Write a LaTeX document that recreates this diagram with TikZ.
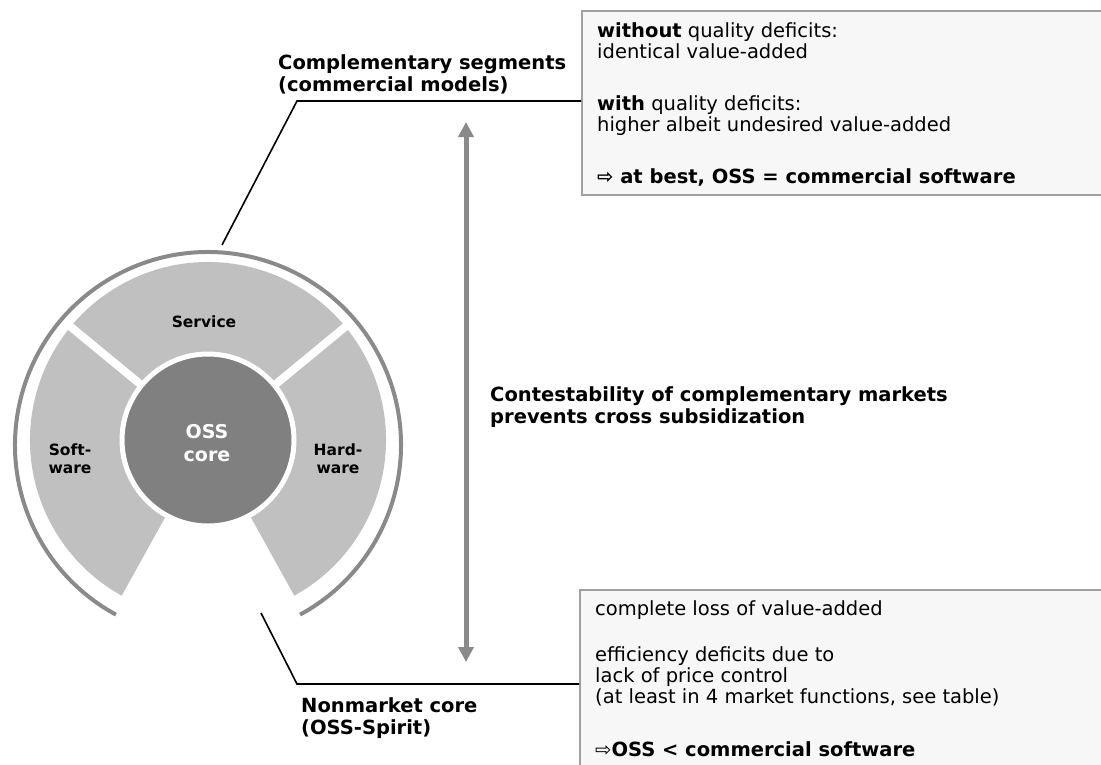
\documentclass[tikz,border=0pt]{standalone}
\usepackage{fontspec}
\setmainfont{DejaVu Sans}
\usetikzlibrary{arrows.meta,calc}
\definecolor{seggray}{HTML}{C0C0C0}
\definecolor{coregray}{HTML}{808080}
\definecolor{arcgray}{HTML}{8A8A8A}
\definecolor{boxfill}{HTML}{F7F7F7}
\definecolor{boxline}{HTML}{A0A0A0}
\tikzset{
  lbl/.style={font=\fontsize{19.5}{21}\selectfont\bfseries, inner sep=0pt, anchor=base west},
  boxtxt/.style={font=\fontsize{19.5}{21}\selectfont, inner sep=0pt, anchor=base west},
  seglbl/.style={font=\fontsize{15.5}{18}\selectfont\bfseries, align=center, inner sep=0pt},
  corelbl/.style={font=\fontsize{19}{23}\selectfont\bfseries, align=center, inner sep=0pt, text=white},
  infobox/.style={draw=boxline, fill=boxfill, line width=1.5pt, anchor=north west, inner sep=0pt},
  leader/.style={draw=black, line width=1.6pt},
  dblarrow/.style={draw=arcgray, line width=5pt, {Triangle[length=15pt,width=15pt]}-{Triangle[length=15pt,width=15pt]}},
  outerarc/.style={draw=arcgray, line width=4pt},
  gapline/.style={draw=white, line width=8pt}
}
\begin{document}
\begin{tikzpicture}[x=1pt,y=1pt]
\useasboundingbox (0,-764) rectangle (1101,0);
% --- wheel ---
\coordinate (C) at (208,-440);
\coordinate (O) at (208,-445);
\fill[seggray] ($(C)+(-61:178)$) arc[start angle=-61, end angle=241, radius=178]
   -- ($(C)+(241:84)$) arc[start angle=241, end angle=-61, radius=84] -- cycle;
\draw[gapline] ($(C)+(39.5:70)$) -- ($(C)+(39.5:185)$);
\draw[gapline] ($(C)+(140.5:70)$) -- ($(C)+(140.5:185)$);
\draw[outerarc] ($(O)+(-61.5:193)$) arc[start angle=-61.5, end angle=241.5, radius=193];
\node[circle, fill=coregray, draw=white, line width=5pt, minimum size=172pt, inner sep=0pt] (core) at (C) {};
\node[corelbl] (corelabel) at (207,-443) {OSS\\core};
\node[seglbl] (service) at (204,-322) {Service};
\node[seglbl] (software) at (70,-459) {Soft-\\ware};
\node[seglbl] (hardware) at (338,-459) {Hard-\\ware};
% --- boxes ---
\node[infobox, minimum width=540pt, minimum height=184pt] (tbox) at (581,-10) {};
\node[infobox, minimum width=540pt, minimum height=200pt] (bbox) at (579,-589) {};
\node[boxtxt] (t1) at (597,-37) {\textbf{without} quality deficits:};
\node[boxtxt] (t2) at (597,-58) {identical value-added};
\node[boxtxt] (t3) at (597,-110) {\textbf{with} quality deficits:};
\node[boxtxt] (t4) at (597,-131) {higher albeit undesired value-added};
\node[boxtxt] (t5) at (597,-183) {\textbf{⇨ at best, OSS = commercial software}};
\node[boxtxt] (b1) at (595,-615) {complete loss of value-added};
\node[boxtxt] (b2) at (595,-661) {efficiency deficits due to};
\node[boxtxt] (b3) at (595,-682) {lack of price control};
\node[boxtxt] (b4) at (595,-703) {(at least in 4 market functions, see table)};
\node[boxtxt] (b5) at (595,-756) {⇨\textbf{OSS < commercial software}};
% --- labels ---
\node[lbl] (l1) at (278,-69) {Complementary segments};
\node[lbl] (l2) at (278,-91) {(commercial models)};
\node[lbl] (n1) at (301,-712) {Nonmarket core};
\node[lbl] (n2) at (301,-734) {(OSS-Spirit)};
\node[lbl] (c1) at (490,-401) {Contestability of complementary markets};
\node[lbl] (c2) at (490,-423) {prevents cross subsidization};
% --- leaders ---
\coordinate (ctop) at (222,-245);
\coordinate (ktop) at (297,-101);
\draw[leader] (ctop) -- (ktop) -- (ktop -| tbox.west);
\coordinate (cbot) at (261,-613);
\coordinate (kbot) at (297,-684);
\draw[leader] (cbot) -- (kbot) -- (kbot -| bbox.west);
% --- arrow ---
\coordinate (atop) at (466,-122);
\coordinate (abot) at (466,-662);
\draw[dblarrow] (atop) -- (abot);
\end{tikzpicture}
\end{document}
